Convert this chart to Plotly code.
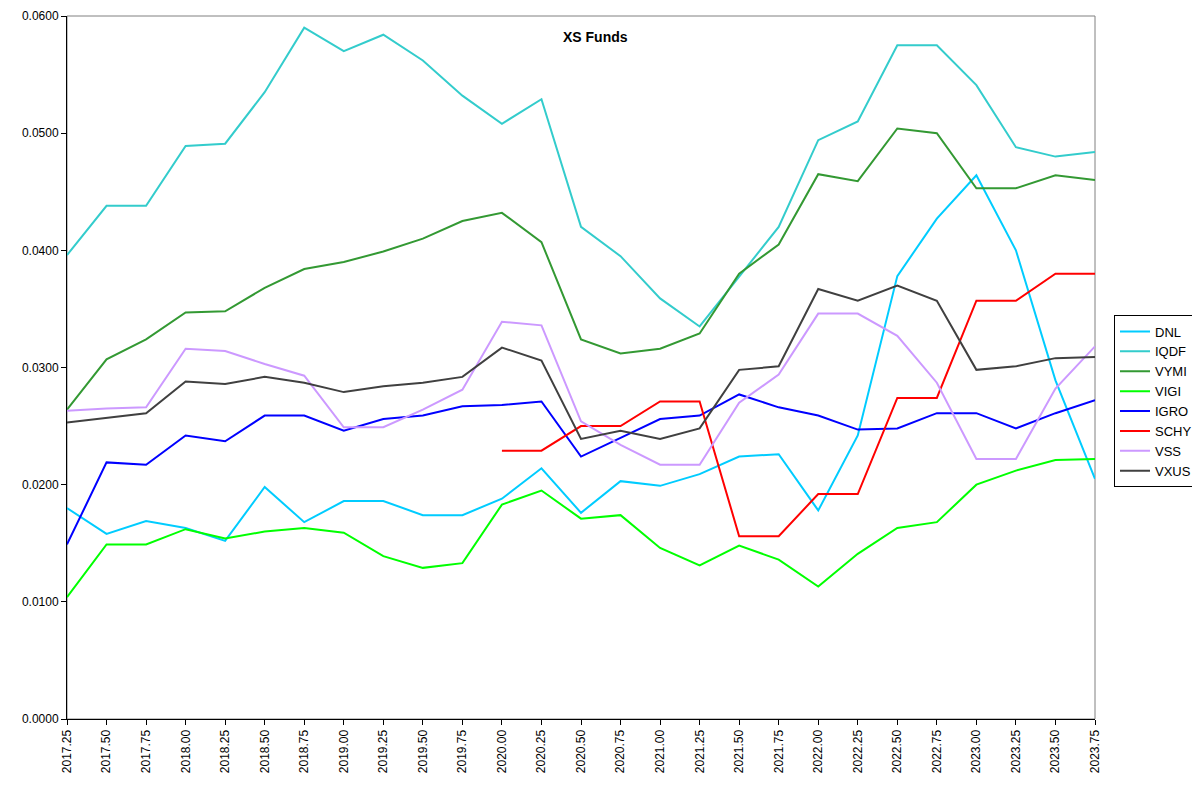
import plotly.graph_objects as go

quarters = ["2017.25", "2017.50", "2017.75", "2018.00", "2018.25", "2018.50", "2018.75",
            "2019.00", "2019.25", "2019.50", "2019.75", "2020.00", "2020.25", "2020.50",
            "2020.75", "2021.00", "2021.25", "2021.50", "2021.75", "2022.00", "2022.25",
            "2022.50", "2022.75", "2023.00", "2023.25", "2023.50", "2023.75"]

DNL = [0.0180, 0.0158, 0.0169, 0.0163, 0.0152, 0.0198, 0.0168, 0.0186, 0.0186, 0.0174,
       0.0174, 0.0188, 0.0214, 0.0176, 0.0203, 0.0199, 0.0209, 0.0224, 0.0226, 0.0178,
       0.0242, 0.0378, 0.0427, 0.0464, 0.0400, 0.0289, 0.0205]
IQDF = [0.0396, 0.0438, 0.0438, 0.0489, 0.0491, 0.0535, 0.0590, 0.0570, 0.0584, 0.0562,
        0.0532, 0.0508, 0.0529, 0.0420, 0.0395, 0.0359, 0.0335, 0.0377, 0.0420, 0.0494,
        0.0510, 0.0575, 0.0575, 0.0541, 0.0488, 0.0480, 0.0484]
VYMI = [0.0264, 0.0307, 0.0324, 0.0347, 0.0348, 0.0368, 0.0384, 0.0390, 0.0399, 0.0410,
        0.0425, 0.0432, 0.0407, 0.0324, 0.0312, 0.0316, 0.0329, 0.0380, 0.0405, 0.0465,
        0.0459, 0.0504, 0.0500, 0.0453, 0.0453, 0.0464, 0.0460]
VIGI = [0.0104, 0.0149, 0.0149, 0.0162, 0.0154, 0.0160, 0.0163, 0.0159, 0.0139, 0.0129,
        0.0133, 0.0183, 0.0195, 0.0171, 0.0174, 0.0146, 0.0131, 0.0148, 0.0136, 0.0113,
        0.0141, 0.0163, 0.0168, 0.0200, 0.0212, 0.0221, 0.0222]
IGRO = [0.0149, 0.0219, 0.0217, 0.0242, 0.0237, 0.0259, 0.0259, 0.0246, 0.0256, 0.0259,
        0.0267, 0.0268, 0.0271, 0.0224, 0.0240, 0.0256, 0.0259, 0.0277, 0.0266, 0.0259,
        0.0247, 0.0248, 0.0261, 0.0261, 0.0248, 0.0261, 0.0272]
SCHY = [None, None, None, None, None, None, None, None, None, None,
        None, 0.0229, 0.0229, 0.0250, 0.0250, 0.0271, 0.0271, 0.0156, 0.0156, 0.0192,
        0.0192, 0.0274, 0.0274, 0.0357, 0.0357, 0.0380, 0.0380]
VSS = [0.0263, 0.0265, 0.0266, 0.0316, 0.0314, 0.0303, 0.0293, 0.0249, 0.0249, 0.0264,
       0.0281, 0.0339, 0.0336, 0.0254, 0.0234, 0.0217, 0.0217, 0.0270, 0.0294, 0.0346,
       0.0346, 0.0327, 0.0287, 0.0222, 0.0222, 0.0282, 0.0318]
VXUS = [0.0253, 0.0257, 0.0261, 0.0288, 0.0286, 0.0292, 0.0287, 0.0279, 0.0284, 0.0287,
        0.0292, 0.0317, 0.0306, 0.0239, 0.0246, 0.0239, 0.0248, 0.0298, 0.0301, 0.0367,
        0.0357, 0.0370, 0.0357, 0.0298, 0.0301, 0.0308, 0.0309]

series = [("DNL", DNL, "#00CCFF"), ("IQDF", IQDF, "#33CCCC"), ("VYMI", VYMI, "#339933"),
          ("VIGI", VIGI, "#00FF00"), ("IGRO", IGRO, "#0000FF"), ("SCHY", SCHY, "#FF0000"),
          ("VSS", VSS, "#CC99FF"), ("VXUS", VXUS, "#404040")]

fig = go.Figure()
for name, vals, color in series:
    fig.add_trace(go.Scatter(x=quarters, y=vals, name=name, mode="lines",
                             line=dict(color=color, width=2), connectgaps=False))

font = "Liberation Sans, Arial, sans-serif"
# page body has an 8px margin; margins compensate so the plot area lands at 67..1095 x 16..719
fig.update_layout(
    width=1200, height=794,
    margin=dict(l=59, r=113, t=8, b=83, autoexpand=False),
    paper_bgcolor="white", plot_bgcolor="white",
    font=dict(family=font, size=12, color="black"),
    showlegend=True,
    legend=dict(x=(1114 - 67) / 1028, y=0.574, xanchor="left", yanchor="top",
                bordercolor="black", borderwidth=1, bgcolor="white",
                font=dict(family=font, size=13, color="black"),
                tracegroupgap=0, itemwidth=30),
    xaxis=dict(type="category", range=[0, len(quarters) - 1], showgrid=False,
               showline=True, linecolor="black", linewidth=1, automargin=False,
               ticks="outside", ticklen=5, tickcolor="black", tickangle=-90,
               tickfont=dict(family=font, size=12, color="black"), zeroline=False),
    yaxis=dict(range=[0, 0.06], dtick=0.01, tickformat=".4f", showgrid=False,
               showline=True, linecolor="black", linewidth=1, automargin=False,
               ticks="outside", ticklen=5, tickcolor="black",
               tickfont=dict(family=font, size=12, color="black"), zeroline=False),
    shapes=[dict(type="rect", xref="paper", yref="paper", x0=0, y0=0, x1=1, y1=1,
                 line=dict(color="#808080", width=1), layer="below")],
    annotations=[dict(text="<b>XS Funds</b>", xref="paper", yref="paper",
                      x=(595 - 67) / 1028, y=(719 - 37) / 703, xanchor="center",
                      yanchor="middle", showarrow=False,
                      font=dict(family=font, size=14, color="black"))],
)

fig.write_html("out.html")
